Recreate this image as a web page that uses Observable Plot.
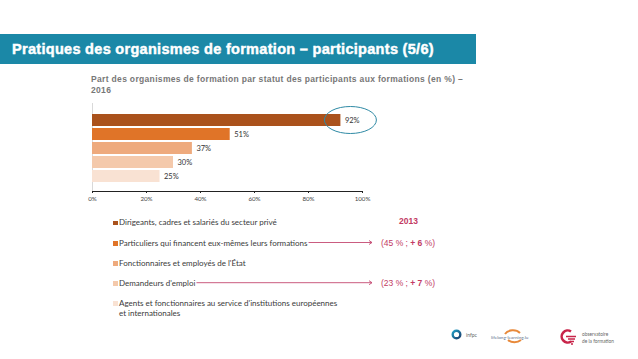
<!DOCTYPE html>
<html><head><meta charset="utf-8">
<script src="https://cdn.jsdelivr.net/npm/d3@7"></script>
<script src="https://cdn.jsdelivr.net/npm/@observablehq/plot@0.6"></script>
<style>
body{margin:0;background:#fff;}
#page{position:relative;width:638px;height:359px;overflow:hidden;background:#fff;}
#titlebar{position:absolute;left:0;top:34px;width:476px;height:30px;background:#1b88a7;color:#fff;
  font:bold 14.5px "Liberation Sans",Arial,sans-serif;letter-spacing:0.3px;-webkit-text-stroke:0.45px #fff;line-height:30px;padding-left:12px;box-sizing:border-box;white-space:nowrap;}
#subtitle{position:absolute;left:91px;top:74px;width:420px;color:#777;font:bold 8.5px "Liberation Sans",Arial,sans-serif;letter-spacing:0.33px;line-height:11px;}
#chart{position:absolute;left:0;top:100px;}
.leg{position:absolute;left:113px;font:8px Lato,"Open Sans",sans-serif;color:#3a3a3a;line-height:10px;white-space:nowrap;}
.leg .sw{display:inline-block;width:4.5px;height:4.5px;margin-right:1.5px;vertical-align:0px;}
.leg .t{display:inline-block;vertical-align:top;}
.note{position:absolute;font:8.5px "Liberation Sans",Arial,sans-serif;color:#c23a63;white-space:nowrap;line-height:10px;}
#overlay{position:absolute;left:0;top:0;pointer-events:none;}
</style>
</head><body>
<div id="page">
  <div id="titlebar">Pratiques des organismes de formation – participants (5/6)</div>
  <div id="subtitle">Part des organismes de formation par statut des participants aux formations (en %) –<br>2016</div>
  <div id="chart"></div>
  <div id="legend"></div>
  <div id="notes"></div>
  <svg id="overlay" width="638" height="359"></svg>
</div>
<script>
// ---- data ----
const categories = [
  "Dirigeants, cadres et salariés du secteur privé",
  "Particuliers qui financent eux-mêmes leurs formations",
  "Fonctionnaires et employés de l'État",
  "Demandeurs d'emploi",
  "Agents et fonctionnaires au service d'institutions européennes et internationales"
];
const legendLines = [
  ["Dirigeants, cadres et salariés du secteur privé"],
  ["Particuliers qui financent eux-mêmes leurs formations"],
  ["Fonctionnaires et employés de l'État"],
  ["Demandeurs d'emploi"],
  ["Agents et fonctionnaires au service d'institutions européennes", "et internationales"]
];
const values = [92, 51, 37, 30, 25];
const xTicks = [0, 20, 40, 60, 80, 100];
const year2013 = "2013";
const noteCategories = [1, 3];
const values2013 = [45, 23];
const deltas = [6, 7];

const palette = ["#aa521c", "#e07428", "#eeaa7d", "#f4c9ab", "#f9e2d3"];

const data = categories.map((c, i) => ({cat: c, value: values[i]}));

const chart = Plot.plot({
  width: 638, height: 110,
  marginLeft: 92, marginRight: 276, marginTop: 3, marginBottom: 19,
  style: {background: "transparent", fontFamily: "Lato, sans-serif", overflow: "visible"},
  x: {domain: [0, 100], label: null},
  y: {domain: categories, range: [13, 83], paddingInner: 0.14, paddingOuter: 0.07, axis: null},
  color: {domain: categories, range: palette},
  marks: [
    Plot.frame({anchor: "left", stroke: "#d9d9d9"}),
    Plot.barX(data, {x: "value", y: "cat", fill: "cat"}),
    Plot.text(data, {x: "value", y: "cat", text: d => d.value + "%", dx: 4, textAnchor: "start", fontSize: 7.5, fill: "#333"}),
    Plot.axisX({ticks: xTicks, tickFormat: d => d + "%", tickSize: 2, tickPadding: 3, fontSize: 6.2, color: "#444", stroke: "#222", label: null}),
    Plot.frame({anchor: "bottom", stroke: "#222", strokeWidth: 1})
  ]
});
document.getElementById("chart").appendChild(chart);

// highlight ellipse around the largest value, positioned by the Plot scales
const sx = chart.scale("x"), sy = chart.scale("y");
d3.select(chart).append("ellipse")
  .attr("cx", sx.apply(values[0]) + 10)
  .attr("cy", sy.apply(categories[0]) + sy.bandwidth / 2)
  .attr("rx", 26).attr("ry", 13.5)
  .attr("fill", "none").attr("stroke", "#2f8aa5").attr("stroke-width", 1);

// ---- legend ----
const legendTops = [222, 242.5, 262.5, 282.7, 302.5];
const legend = document.getElementById("legend");
const textEls = [];
legendLines.forEach((lines, i) => {
  const row = document.createElement("div");
  row.className = "leg";
  row.style.top = (legendTops[i] - 5) + "px";
  const sw = document.createElement("span");
  sw.className = "sw";
  sw.style.background = chart.scale("color").apply(categories[i]);
  const t = document.createElement("span");
  t.className = "t";
  t.innerHTML = lines.join("<br>");
  row.appendChild(sw); row.appendChild(t);
  legend.appendChild(row);
  textEls.push(t);
});

// ---- 2013 notes with arrows ----
const notes = document.getElementById("notes");
const yr = document.createElement("div");
yr.className = "note";
yr.style.left = "399px"; yr.style.top = "216px"; yr.style.fontWeight = "bold";
yr.textContent = year2013;
notes.appendChild(yr);

const ov = d3.select("#overlay");
const pageBox = document.getElementById("page").getBoundingClientRect();
noteCategories.forEach((ci, k) => {
  const n = document.createElement("div");
  n.className = "note";
  n.style.left = "381px";
  n.style.top = (legendTops[ci] - 5) + "px";
  n.innerHTML = "(" + values2013[k] + " % ; <b>+ " + deltas[k] + "</b> %)";
  notes.appendChild(n);
  const r = textEls[ci].getBoundingClientRect();
  const x0 = r.right - pageBox.left + 1, x1 = 372, y = legendTops[ci];
  ov.append("line").attr("x1", x0).attr("x2", x1).attr("y1", y).attr("y2", y)
    .attr("stroke", "#c44a72").attr("stroke-width", 0.9);
  ov.append("path").attr("d", `M${x1 - 3},${y - 2}L${x1},${y}L${x1 - 3},${y + 2}`)
    .attr("fill", "none").attr("stroke", "#c44a72").attr("stroke-width", 0.9);
});

// ---- logos ----
const defs = ov.append("defs");
const g = defs.append("linearGradient").attr("id", "ig").attr("x1", "0").attr("x2", "1").attr("y1", "0").attr("y2", "1");
g.append("stop").attr("offset", "0").attr("stop-color", "#1f9dc4");
g.append("stop").attr("offset", "1").attr("stop-color", "#1b3f6e");
ov.append("circle").attr("cx", 456.5).attr("cy", 334.5).attr("r", 3.8)
  .attr("fill", "none").attr("stroke", "url(#ig)").attr("stroke-width", 2.4);
ov.append("text").attr("x", 466).attr("y", 336.5).attr("font-size", 5).attr("fill", "#666")
  .attr("font-family", "Lato, sans-serif").text("infpc");
ov.append("path").attr("d", "M505,334 A9,7 0 0 1 520,333").attr("fill", "none").attr("stroke", "#e8893a").attr("stroke-width", 2);
ov.append("path").attr("d", "M508,340 A9,7 0 0 0 521,340").attr("fill", "none").attr("stroke", "#e8893a").attr("stroke-width", 2);
ov.append("text").attr("x", 491).attr("y", 338.5).attr("font-size", 4.6).attr("fill", "#5b6f8e")
  .attr("font-family", "Lato, sans-serif").text("lifelong-learning.lu");
ov.append("path").attr("d", "M571,331.5 A6,6 0 1 0 571,341.5").attr("fill", "none").attr("stroke", "#c8254a").attr("stroke-width", 2.6);
ov.append("path").attr("d", "M566,336.5 H576 M568,339 H575 M570,341.5 H574 M571,344 H573").attr("stroke", "#c8254a").attr("stroke-width", 1.3);
ov.append("text").attr("x", 582).attr("y", 336).attr("font-size", 4.8).attr("fill", "#666")
  .attr("font-family", "Lato, sans-serif").text("observatoire");
ov.append("text").attr("x", 582).attr("y", 342.5).attr("font-size", 4.8).attr("fill", "#666")
  .attr("font-family", "Lato, sans-serif").text("de la formation");
</script>
</body></html>
